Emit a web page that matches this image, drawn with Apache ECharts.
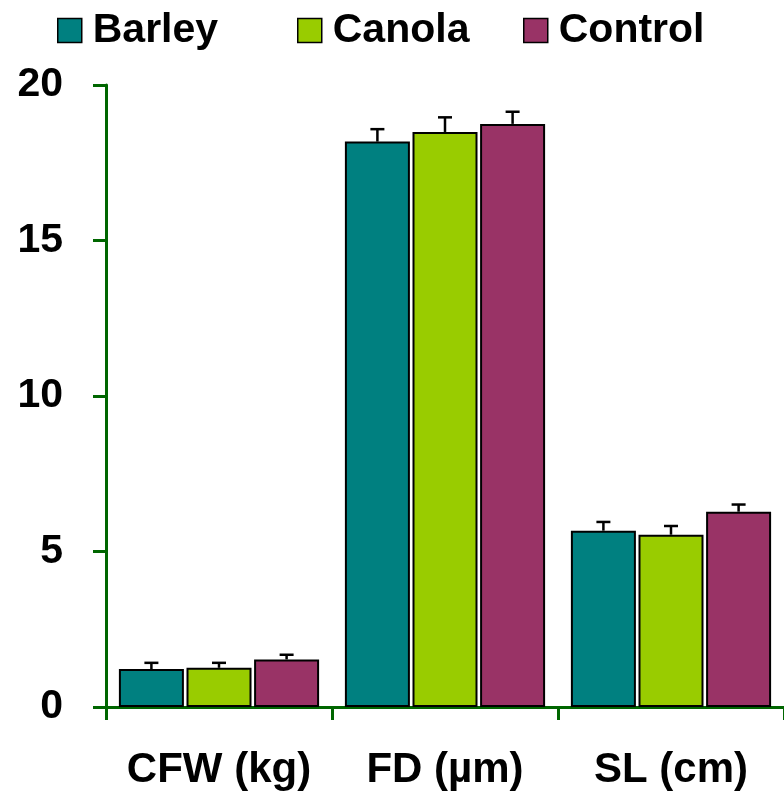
<!DOCTYPE html>
<html><head><meta charset="utf-8">
<script src="https://cdn.jsdelivr.net/npm/echarts@6/dist/echarts.min.js"></script>
<style>html,body{margin:0;padding:0;background:#fff}#c{width:784px;height:798px}</style>
</head><body><div id="c"></div>
<script>
var categories = ['CFW (kg)', 'FD (µm)', 'SL (cm)'];
var seriesNames = ['Barley', 'Canola', 'Control'];
var barley = [1.22, 18.18, 5.67];
var canola = [1.26, 18.49, 5.54];
var control = [1.53, 18.75, 6.28];
var barleyErr = [0.2, 0.4, 0.28];
var canolaErr = [0.16, 0.47, 0.28];
var controlErr = [0.15, 0.39, 0.23];
var yTicks = [0, 5, 10, 15, 20];

var colors = ['#008080', '#99CC00', '#993366'];
var values = [barley, canola, control];
var errs = [barleyErr, canolaErr, controlErr];
var BW = 65, GAP = 0.04;
var font = '"Liberation Sans", Arial, sans-serif';

var series = [];
values.forEach(function (v, i) {
  series.push({
    name: seriesNames[i], type: 'bar', data: v, barWidth: BW, barGap: (GAP * 100) + '%',
    itemStyle: { color: colors[i], borderColor: '#000', borderWidth: 2 }
  });
});
values.forEach(function (v, i) {
  var d = v.map(function (val, k) { return [k, val, val + errs[i][k]]; });
  series.push({
    type: 'custom', data: d, z: 5,
    renderItem: function (params, api) {
      var off = (i - 1) * BW * (1 + GAP);
      var p0 = api.coord([api.value(0), api.value(1)]);
      var p1 = api.coord([api.value(0), api.value(2)]);
      var x = p0[0] + off;
      var st = { stroke: '#000', lineWidth: 2.5 };
      return { type: 'group', children: [
        { type: 'line', shape: { x1: x, y1: p0[1], x2: x, y2: p1[1] }, style: st },
        { type: 'line', shape: { x1: x - 7, y1: p1[1], x2: x + 7, y2: p1[1] }, style: st }
      ]};
    }
  });
});

var legendLefts = [52, 292, 518];
var legends = seriesNames.map(function (n, i) {
  return {
    data: [n], top: 5, left: legendLefts[i], itemWidth: 24, itemHeight: 24,
    icon: 'rect',
    textStyle: { fontFamily: font, fontWeight: 'bold', fontSize: 41, color: '#000', padding: [0, 0, 4, 6] },
    itemStyle: { borderColor: '#000', borderWidth: 1.5 }
  };
});

var chart = echarts.init(document.getElementById('c'));
chart.setOption({
  animation: false,
  color: colors,
  legend: legends,
  grid: { left: 106, right: 0, top: 85, bottom: 91 },
  xAxis: {
    type: 'category', data: categories,
    axisLine: { lineStyle: { color: '#006600', width: 3 } },
    axisTick: { show: true, interval: 0, length: 13, lineStyle: { color: '#006600', width: 3 } },
    axisLabel: { interval: 0, hideOverlap: false, fontFamily: font, fontWeight: 'bold', fontSize: 42, color: '#000', margin: 42 }
  },
  yAxis: {
    type: 'value', min: 0, max: 20, interval: 5,
    axisLine: { show: true, lineStyle: { color: '#006600', width: 3 } },
    axisTick: { show: true, length: 13, lineStyle: { color: '#006600', width: 3 } },
    splitLine: { show: false },
    axisLabel: { fontFamily: font, fontWeight: 'bold', fontSize: 41, color: '#000', margin: 43,
      formatter: function (v) { return yTicks.indexOf(v) >= 0 ? String(v) : ''; } }
  },
  series: series
});
</script></body></html>
